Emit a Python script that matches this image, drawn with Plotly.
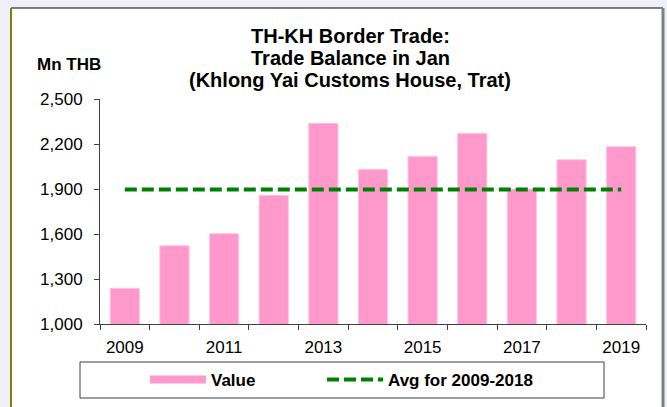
import plotly.graph_objects as go

# ---- data ----
years = [2009, 2010, 2011, 2012, 2013, 2014, 2015, 2016, 2017, 2018, 2019]
values = [1238, 1522, 1602, 1858, 2338, 2031, 2118, 2271, 1900, 2095, 2182]
avg_2009_2018 = [1897, 1897, 1897, 1897, 1897, 1897, 1897, 1897, 1897, 1897, 1897]
label_years = [2009, 2011, 2013, 2015, 2017, 2019]
y_ticks = [1000, 1300, 1600, 1900, 2200, 2500]
title_lines = ["TH-KH Border Trade:", "Trade Balance in Jan", "(Khlong Yai Customs House, Trat)"]

W, H = 667, 407
L, R, T, B = 100, 21, 99, 83
PW, PH = W - L - R, H - T - B


def px_x(px):
    return (px - L) / PW


def px_y(py):
    return (H - B - py) / PH


FONT = "Liberation Sans, Arial, sans-serif"

fig = go.Figure()
fig.add_trace(go.Bar(
    x=years, y=values, width=0.59, name="Value", showlegend=False,
    marker=dict(color="#FF99CC", line=dict(color="#FFC6E0", width=1)),
))
# legend swatch for bars (wide pink band like the original)
fig.add_trace(go.Scatter(
    x=[None], y=[None], mode="lines", name="Value", legend="legend",
    line=dict(color="#FF99CC", width=8),
))
fig.add_trace(go.Scatter(
    x=years, y=avg_2009_2018, mode="lines", name="Avg for 2009-2018",
    legend="legend2",
    line=dict(color="#008000", width=4, dash="12px,5px"),
))

shapes = [
    # white chart frame
    dict(type="rect", xref="paper", yref="paper", layer="below",
         x0=px_x(11), x1=px_x(663), y0=px_y(430), y1=px_y(8),
         fillcolor="white", line=dict(width=0)),
    dict(type="line", xref="paper", yref="paper", x0=px_x(11), x1=px_x(663),
         y0=px_y(8), y1=px_y(8), line=dict(color="#000000", width=1)),
    dict(type="line", xref="paper", yref="paper", x0=px_x(11), x1=px_x(11),
         y0=px_y(430), y1=px_y(8), line=dict(color="#808000", width=2)),
    dict(type="line", xref="paper", yref="paper", x0=px_x(663), x1=px_x(663),
         y0=px_y(430), y1=px_y(8), line=dict(color="#7F7F7F", width=3)),
    # legend box
    dict(type="rect", xref="paper", yref="paper",
         x0=px_x(80), x1=px_x(604), y0=px_y(398), y1=px_y(362),
         line=dict(color="#404040", width=1), fillcolor="rgba(0,0,0,0)"),
]

annotations = []
for i, (txt, cy) in enumerate(zip(title_lines, [36, 58, 80])):
    annotations.append(dict(
        text="<b>%s</b>" % txt, xref="paper", yref="paper",
        x=px_x(350), y=px_y(cy), xanchor="center", yanchor="middle",
        showarrow=False, font=dict(family=FONT, size=20, color="black"),
    ))
annotations.append(dict(
    text="<b>Mn THB</b>", xref="paper", yref="paper",
    x=px_x(68.5), y=px_y(65), xanchor="center", yanchor="middle",
    showarrow=False, font=dict(family=FONT, size=17, color="black"),
))

legend_common = dict(
    orientation="h", xref="container", yref="container",
    xanchor="left", yanchor="middle",
    bgcolor="rgba(0,0,0,0)", borderwidth=0,
    font=dict(family=FONT, size=17, color="black", weight="bold"),
    itemwidth=56,
)

fig.update_layout(
    width=W, height=H, autosize=False,
    margin=dict(l=L, r=R, t=T, b=B, pad=0, autoexpand=False),
    paper_bgcolor="#EFEFF9", plot_bgcolor="rgba(0,0,0,0)",
    font=dict(family=FONT, size=17, color="black"),
    shapes=shapes, annotations=annotations,
    bargap=0.41,
    showlegend=True,
    legend=dict(x=145 / W, y=1 - 380 / H, **legend_common),
    legend2=dict(x=322 / W, y=1 - 380 / H, **legend_common),
    xaxis=dict(
        range=[2008.5, 2019.5], tickmode="array", tickvals=label_years,
        ticktext=[str(y) for y in label_years], ticks="",
        showline=True, linecolor="#404040", linewidth=1, automargin=False,
        showgrid=False, zeroline=False, ticklabelstandoff=8,
        tickfont=dict(family=FONT, size=17, color="black"),
        minor=dict(ticks="outside", ticklen=5, tickcolor="#404040", tickwidth=1,
                   tickmode="array",
                   tickvals=[y - 0.5 for y in years] + [years[-1] + 0.5],
                   showgrid=False),
    ),
    yaxis=dict(
        range=[1000, 2500], tickmode="array", tickvals=y_ticks,
        tickformat=",", ticks="outside", ticklen=5, tickcolor="#404040",
        showline=True, linecolor="#404040", linewidth=1, automargin=False,
        showgrid=False, zeroline=False, ticklabelstandoff=8,
        tickfont=dict(family=FONT, size=17, color="black"),
    ),
)

fig.write_html("out.html")
